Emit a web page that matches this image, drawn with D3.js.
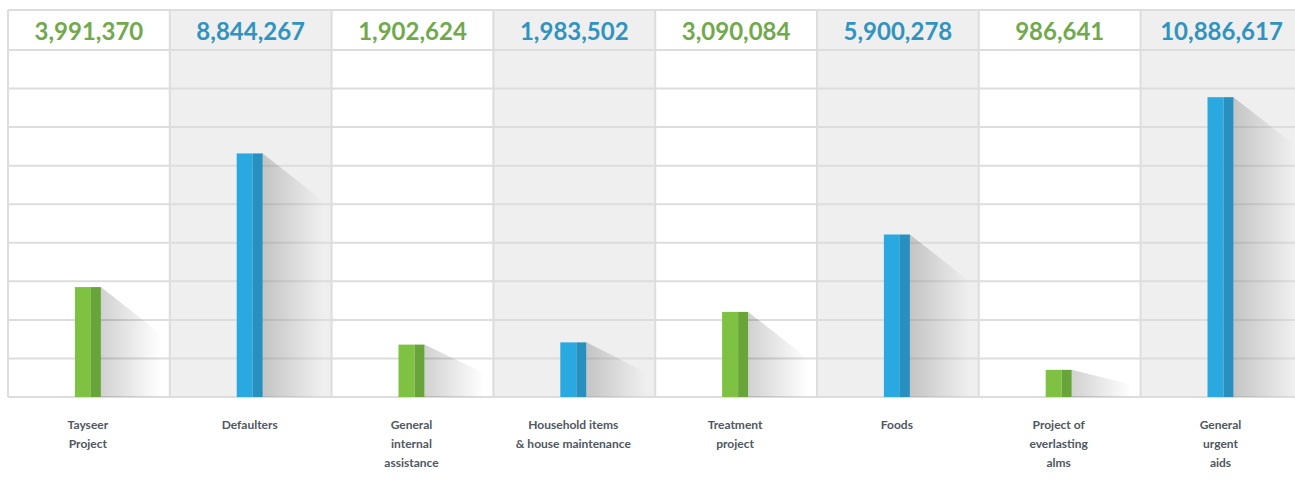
<!DOCTYPE html>
<html>
<head>
<meta charset="utf-8">
<script src="https://cdn.jsdelivr.net/npm/d3@7"></script>
<style>
  body { margin: 0; background: #fff; }
  svg { display: block; }
</style>
</head>
<body>
<div id="chart"></div>
<script>
// Categories, as printed under each column (one entry per line)
const categories = ["Tayseer Project", "Defaulters", "General internal assistance",
  "Household items & house maintenance", "Treatment project", "Foods",
  "Project of everlasting alms", "General urgent aids"];
const labelLines = [["Tayseer", "Project"], ["Defaulters"], ["General", "internal", "assistance"],
  ["Household items", "& house maintenance"], ["Treatment", "project"], ["Foods"],
  ["Project of", "everlasting", "alms"], ["General", "urgent", "aids"]];
const values = [3991370, 8844267, 1902624, 1983502, 3090084, 5900278, 986641, 10886617];

const W = 1295, H = 492;
const leftX = 8, colW = 161.8, topY = 10, headH = 40, base = 397;

const green = { light: "#7fc243", dark: "#69a43b", text: "#71a94c" };
const blue = { light: "#2aa9e0", dark: "#2790bf", text: "#3093c0" };
const pal = i => i % 2 === 0 ? green : blue;

const svg = d3.select("#chart").append("svg")
  .attr("width", W)
  .attr("height", H);

// x: one band per category
const x = d3.scaleBand()
  .domain(categories)
  .range([leftX, leftX + colW * categories.length])
  .padding(0);

// y: value scale for the bars
const y = d3.scaleLinear()
  .domain([0, 12600000])
  .range([base, topY + headH]);

// shadow gradient
const defs = svg.append("defs");
const grad = defs.append("linearGradient")
  .attr("id", "shade")
  .attr("x1", "0%").attr("x2", "100%")
  .attr("y1", "0%").attr("y2", "0%");
grad.append("stop").attr("offset", "0%").attr("stop-color", "#000").attr("stop-opacity", 0.18);
grad.append("stop").attr("offset", "60%").attr("stop-color", "#000").attr("stop-opacity", 0.07);
grad.append("stop").attr("offset", "100%").attr("stop-color", "#000").attr("stop-opacity", 0);

// column backgrounds (alternate white / light gray)
svg.append("g").selectAll("rect")
  .data(categories)
  .join("rect")
  .attr("x", d => x(d))
  .attr("y", topY)
  .attr("width", x.bandwidth())
  .attr("height", base - topY)
  .attr("fill", (d, i) => i % 2 ? "#efefef" : "#ffffff");

// horizontal grid lines
const gridY = d3.range(10).map(i => topY + headH + i * (base - topY - headH) / 9);
svg.append("g").selectAll("line")
  .data([topY].concat(gridY))
  .join("line")
  .attr("x1", leftX).attr("x2", W)
  .attr("y1", d => d).attr("y2", d => d)
  .attr("stroke", "#dddddd")
  .attr("stroke-width", 2);

// vertical column borders
svg.append("g").selectAll("line")
  .data(categories)
  .join("line")
  .attr("x1", d => x(d)).attr("x2", d => x(d))
  .attr("y1", topY).attr("y2", base)
  .attr("stroke", "#dddddd")
  .attr("stroke-width", 2);

// header values
svg.append("g").selectAll("text")
  .data(categories)
  .join("text")
  .attr("x", d => x(d) + x.bandwidth() / 2)
  .attr("y", topY + 30)
  .attr("text-anchor", "middle")
  .attr("font-family", "Lato, sans-serif")
  .attr("font-weight", "bold")
  .attr("font-size", 24)
  .attr("fill", (d, i) => pal(i).text)
  .text((d, i) => d3.format(",")(values[i]));

const barW = 26, darkW = 10;
const barX = d => x(d) + x.bandwidth() / 2 - 14;

// long shadows
svg.append("g").selectAll("path")
  .data(categories)
  .join("path")
  .attr("d", (d, i) => {
    const r = barX(d) + barW, t = y(values[i]), h = base - t;
    const dy = Math.min(h * 0.55, 47), dx = 60;
    const p = d3.path();
    p.moveTo(r, t);
    p.lineTo(r + dx, t + dy);
    p.lineTo(r + dx, base);
    p.lineTo(r, base);
    p.closePath();
    return p.toString();
  })
  .attr("fill", "url(#shade)");

// bars: light face + darker right side
const bars = svg.append("g").selectAll("g")
  .data(categories)
  .join("g");
bars.append("rect")
  .attr("x", d => barX(d))
  .attr("y", (d, i) => y(values[i]))
  .attr("width", barW - darkW)
  .attr("height", (d, i) => base - y(values[i]))
  .attr("fill", (d, i) => pal(i).light);
bars.append("rect")
  .attr("x", d => barX(d) + barW - darkW)
  .attr("y", (d, i) => y(values[i]))
  .attr("width", darkW)
  .attr("height", (d, i) => base - y(values[i]))
  .attr("fill", (d, i) => pal(i).dark);

// category labels below
const lab = svg.append("g").selectAll("text")
  .data(categories)
  .join("text")
  .attr("x", d => barX(d) + barW / 2)
  .attr("y", 429)
  .attr("text-anchor", "middle")
  .attr("font-family", "Lato, sans-serif")
  .attr("font-weight", "bold")
  .attr("font-size", 12)
  .attr("fill", "#4f5761");
lab.selectAll("tspan")
  .data((d, i) => labelLines[i])
  .join("tspan")
  .attr("x", function () { return this.parentNode.getAttribute("x"); })
  .attr("dy", (d, j) => j === 0 ? 0 : 19)
  .text(d => d);
</script>
</body>
</html>
